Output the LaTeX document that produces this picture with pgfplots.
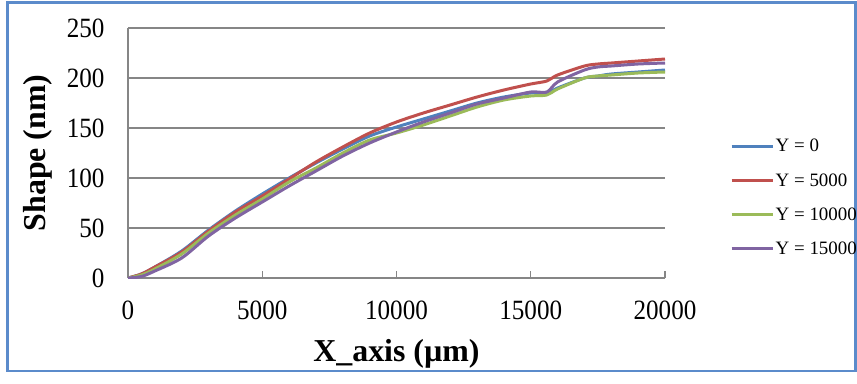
\documentclass[border=0pt]{standalone}
\usepackage{fontspec}
\setmainfont{Liberation Serif}
\newfontfamily\tickfont{Liberation Serif}[FakeStretch=0.9]
\usepackage{pgfplots}
\pgfplotsset{compat=1.18}
\definecolor{sblue}{HTML}{4F81BD}
\definecolor{sred}{HTML}{C0504D}
\definecolor{sgreen}{HTML}{9BBB59}
\definecolor{spurple}{HTML}{8064A2}
\definecolor{gridgray}{HTML}{868686}
\definecolor{framecol}{HTML}{5B8BCB}
\pgfplotstableread{
x     b    r    g    p
0     0    0    0    0
500   4    4    3    1.5
1000  11   11   9    7
2000  27   26   24   20
3000  48   47   45   42
4000  67   66   63   60
5000  84   82   79   76
6000  100  99   96   92
7000  115  116  110  107
8000  129  131  125  122
9000  142  145  138  135
10000 151  156  145  146
11000 159  165  153  156
12000 167  173  162  165
13000 175  181  171  174
14000 181  188  178  180
15000 185  194  182  186
15600 185  197  183  186
16000 190  203  189  196
17000 200  212  200  208
17500 202  214  202  211
18000 204  215  203  212
19000 206  217  205  214
20000 208  219  206  215
}\datatable
\begin{document}
\begin{tikzpicture}[x=1bp,y=1bp]
\useasboundingbox (0,0) rectangle (857,383);
\draw[framecol, line width=2.5bp] (7.5,380.5) rectangle (855.5,12);
\begin{axis}[
  at={(128bp,105bp)}, anchor=south west,
  scale only axis, width=537bp, height=250bp,
  xmin=0, xmax=20000, ymin=0, ymax=250,
  xtick={0,5000,...,20000}, ytick={0,50,...,250},
  scaled x ticks=false,
  axis x line*=bottom, axis y line*=left,
  axis line style={-, gridgray, line width=1.2bp},
  ymajorgrids, grid style={gridgray, line width=1.2bp},
  tick align=inside, major tick length=7bp,
  xtick style={gridgray, line width=1.2bp},
  ytick style={draw=none},
  /pgf/number format/assume math mode=true,
  /pgf/number format/set thousands separator={},
  xticklabel style={font=\tickfont\fontsize{28}{28}\selectfont, yshift=-19bp},
  yticklabel style={font=\tickfont\fontsize{28}{28}\selectfont, xshift=-20bp},
  xlabel={\textbf{X\_axis (µm)}},
  ylabel={\textbf{Shape (nm)}},
  label style={font=\fontsize{32}{32}\selectfont},
  xlabel style={yshift=-13bp},
  ylabel style={yshift=8bp},
  legend style={at={(rel axis cs:1,0.322)}, anchor=west, xshift=65bp,
    draw=none, fill=none, inner sep=0pt, font=\fontsize{19}{19}\selectfont,
    row sep=17bp, cells={anchor=west}, nodes={inner sep=1.5bp}},
  legend image code/.code={\draw[#1, line width=3bp, sharp plot] (0bp,0bp) -- (41bp,0bp);},
  every axis plot/.append style={line width=3bp, smooth, no markers},
]
\addplot[sblue] table[x=x,y=b]{\datatable};
\addlegendentry{Y = 0}
\addplot[sred] table[x=x,y=r]{\datatable};
\addlegendentry{Y = 5000}
\addplot[sgreen] table[x=x,y=g]{\datatable};
\addlegendentry{Y = 10000}
\addplot[spurple] table[x=x,y=p]{\datatable};
\addlegendentry{Y = 15000}
\end{axis}
\end{tikzpicture}
\end{document}
